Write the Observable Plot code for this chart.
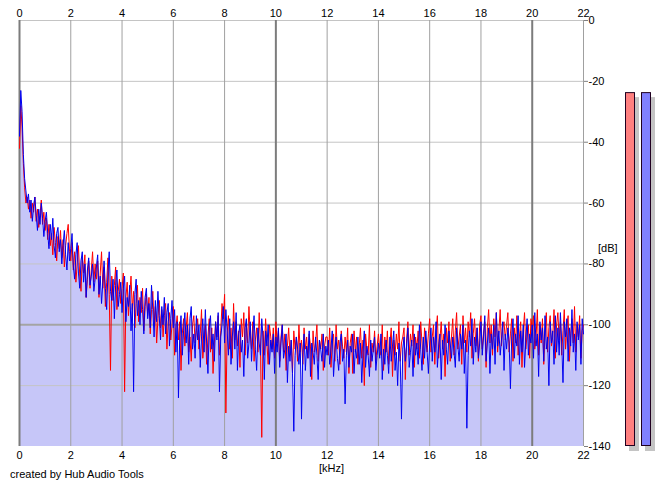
<!DOCTYPE html>
<html>
<head>
<meta charset="utf-8">
<script src="https://cdn.jsdelivr.net/npm/d3@7"></script>
<script src="https://cdn.jsdelivr.net/npm/@observablehq/plot@0.6"></script>
<style>
  body { margin: 0; background: #fff; font-family: "Liberation Sans", Arial, sans-serif; }
  #wrap { position: relative; width: 665px; height: 487px; overflow: hidden; }
  #wrap svg { position: absolute; top: 0; }
  .lbl { position: absolute; font-size: 11px; color: #000; white-space: nowrap; }
</style>
</head>
<body>
<div id="wrap">
  <div class="lbl" id="khz" style="left:319px; top:462px;">[kHz]</div>
  <div class="lbl" id="db" style="left:598px; top:242px;">[dB]</div>
  <div class="lbl" id="credit" style="left:10px; top:468px;">created by Hub Audio Tools</div>
</div>
<script>
// ---- data ----
const freqStep = 0.05; // kHz between spectrum bins
// one row = 1 kHz (20 bins)
const blueDb = [
  -38, -23, -30, -44, -52, -56, -60, -57, -63, -59, -66, -61, -58, -64, -69, -62, -67, -60, -65, -71,
  -66, -63, -70, -75, -67, -72, -65, -74, -78, -70, -68, -76, -72, -80, -74, -69, -77, -82, -73, -79,
  -75, -70, -81, -85, -77, -73, -83, -88, -79, -76, -86, -80, -91, -82, -78, -87, -84, -80, -89, -85,
  -81, -77, -90, -84, -93, -86, -79, -88, -95, -83, -76, -89, -92, -85, -98, -87, -82, -94, -90, -86,
  -96, -88, -84, -99, -91, -94, -87, -102, -93, -122, -90, -85, -97, -92, -100, -89, -95, -103, -91, -88,
  -98, -93, -101, -87, -95, -104, -92, -99, -89, -97, -105, -94, -100, -91, -103, -96, -93, -107, -98, -92,
  -101, -95, -109, -99, -124, -104, -97, -110, -102, -96, -106, -100, -113, -98, -94, -108, -103, -111, -97, -105,
  -100, -114, -104, -98, -109, -95, -106, -116, -101, -97, -108, -103, -112, -99, -105, -96, -122, -104, -100, -94,
  -106, -95, -102, -110, -98, -113, -104, -99, -108, -96, -115, -103, -100, -109, -105, -117, -101, -98, -111, -106,
  -99, -112, -103, -97, -108, -115, -101, -106, -110, -98, -104, -118, -102, -107, -100, -113, -105, -109, -103, -116,
  -104, -109, -101, -114, -106, -100, -111, -108, -103, -119, -107, -112, -105, -116, -135, -110, -104, -108, -113, -106,
  -131, -109, -103, -115, -107, -111, -102, -117, -106, -109, -113, -104, -110, -118, -105, -108, -112, -103, -114, -107,
  -110, -105, -113, -108, -102, -117, -109, -104, -111, -115, -106, -103, -112, -108, -126, -110, -105, -114, -107, -109,
  -103, -116, -108, -111, -104, -113, -106, -119, -109, -102, -114, -107, -110, -117, -105, -112, -108, -104, -115, -110,
  -106, -111, -103, -118, -108, -113, -105, -110, -116, -104, -112, -107, -102, -115, -109, -120, -106, -111, -131, -108,
  -104, -112, -107, -101, -114, -109, -105, -117, -103, -110, -106, -113, -100, -108, -115, -104, -111, -102, -109, -116,
  -106, -101, -112, -104, -109, -99, -114, -107, -103, -118, -105, -110, -100, -108, -113, -102, -106, -111, -104, -109,
  -114, -101, -107, -112, -103, -108, -100, -116, -105, -134, -110, -102, -107, -98, -113, -104, -109, -101, -111, -106,
  -99, -110, -104, -97, -112, -106, -101, -116, -103, -108, -100, -113, -96, -107, -102, -110, -105, -99, -115, -103,
  -108, -101, -106, -121, -104, -98, -111, -103, -107, -97, -113, -102, -109, -100, -114, -105, -98, -110, -103, -106,
  -100, -111, -96, -107, -103, -117, -99, -105, -101, -112, -97, -108, -104, -120, -99, -106, -102, -113, -97, -109,
  -101, -110, -96, -106, -119, -99, -104, -98, -112, -101, -107, -95, -109, -103, -115, -99, -105, -100, -113, -98,
  -103
];
const redDb = [
  -42, -28, -35, -47, -55, -60, -58, -62, -59, -65, -60, -63, -58, -66, -62, -68, -64, -59, -67, -63,
  -69, -65, -72, -67, -74, -70, -77, -68, -73, -79, -71, -75, -69, -78, -72, -81, -74, -70, -67, -76,
  -79, -73, -82, -76, -86, -80, -74, -84, -89, -78, -83, -77, -91, -85, -79, -88, -82, -76, -86, -80,
  -85, -79, -91, -83, -76, -88, -81, -94, -86, -78, -90, -115, -84, -92, -87, -81, -95, -89, -85, -93,
  -88, -83, -122, -91, -86, -97, -90, -84, -95, -89, -101, -93, -87, -99, -91, -96, -88, -102, -94, -90,
  -97, -91, -103, -95, -89, -100, -94, -106, -98, -92, -101, -95, -104, -97, -93, -108, -99, -96, -105, -100,
  -94, -110, -101, -97, -105, -99, -115, -103, -98, -107, -101, -96, -109, -104, -112, -100, -97, -106, -102, -98,
  -108, -103, -95, -111, -106, -100, -113, -104, -98, -109, -101, -116, -106, -99, -104, -97, -110, -102, -93, -98,
  -90, -129, -103, -97, -108, -101, -111, -93, -105, -99, -107, -102, -114, -98, -104, -96, -110, -100, -106, -94,
  -103, -108, -99, -112, -105, -101, -109, -96, -107, -137, -102, -110, -98, -106, -113, -100, -104, -108, -101, -111,
  -99, -106, -102, -112, -104, -100, -109, -103, -115, -107, -101, -110, -105, -116, -102, -108, -104, -112, -100, -109,
  -105, -113, -101, -108, -104, -111, -103, -107, -118, -102, -109, -106, -100, -112, -105, -108, -103, -115, -107, -104,
  -104, -110, -101, -114, -106, -103, -112, -100, -108, -105, -113, -102, -107, -111, -104, -109, -101, -116, -106, -103,
  -116, -102, -109, -104, -113, -107, -101, -111, -105, -120, -103, -108, -110, -100, -114, -106, -109, -102, -112, -107,
  -103, -108, -110, -100, -115, -104, -109, -102, -113, -106, -101, -117, -105, -110, -103, -108, -99, -112, -106, -104,
  -101, -118, -105, -99, -110, -103, -107, -100, -114, -104, -108, -102, -111, -99, -106, -113, -101, -105, -109, -103,
  -98, -109, -104, -100, -113, -102, -97, -111, -105, -99, -108, -103, -117, -101, -106, -99, -112, -104, -98, -110,
  -102, -96, -108, -104, -100, -113, -97, -106, -101, -109, -99, -104, -96, -111, -103, -98, -107, -101, -112, -100,
  -97, -108, -103, -99, -114, -101, -95, -106, -100, -110, -98, -104, -96, -109, -102, -95, -107, -101, -99, -105,
  -100, -96, -109, -103, -98, -112, -101, -106, -97, -110, -104, -99, -114, -102, -96, -108, -103, -100, -111, -98,
  -102, -97, -108, -104, -95, -110, -100, -106, -98, -113, -103, -96, -109, -101, -97, -107, -104, -95, -111, -100,
  -96, -105, -99, -110, -102, -95, -108, -101, -97, -112, -103, -98, -106, -94, -109, -100, -104, -97, -111, -102,
  -100
];
const xTicks = [0, 2, 4, 6, 8, 10, 12, 14, 16, 18, 20, 22];
const xMajor = [0, 10, 20];
const yTicks = [0, -20, -40, -60, -80, -100, -120, -140];
const yGrid = [0, -20, -40, -60, -80, -120];
const yMajor = [-100];
const channels = ["L", "R"];
const levels = [-23.7, -23.7];
const channelColors = ["#ff8080", "#8080ff"];

// ---- build tables ----
const blueData = blueDb.map((v, i) => ({ f: +(i * freqStep).toFixed(3), db: v }));
const redData = redDb.map((v, i) => ({ f: +(i * freqStep).toFixed(3), db: v }));
const meters = channels.map((c, i) => ({ ch: c, level: levels[i], color: channelColors[i] }));

const W = 665, H = 487;
const mTop = 20, mBottom = H - 446;

const main = Plot.plot({
  width: W, height: H,
  marginLeft: 19, marginRight: W - 583, marginTop: mTop, marginBottom: mBottom,
  style: { fontFamily: "Liberation Sans, Arial, sans-serif", fontSize: "11px", background: "transparent", overflow: "visible" },
  x: { domain: [0, 22], label: null },
  y: { domain: [-140, 0], label: null },
  marks: [
    Plot.areaY(blueData, { x: "f", y1: -140, y2: "db", fill: "#c6c6f8" }),
    Plot.ruleY(yGrid, { stroke: "#c4c4c4", strokeWidth: 1 }),
    Plot.ruleY(yMajor, { stroke: "#a4a4a4", strokeWidth: 2 }),
    Plot.ruleX(xTicks.filter(d => !xMajor.includes(d)), { stroke: "#a0a0a0", strokeWidth: 1 }),
    Plot.ruleX(xMajor, { stroke: "#7c7c7c", strokeWidth: 2 }),
    Plot.lineY(redData, { x: "f", y: "db", stroke: "#ff0000", strokeWidth: 1 }),
    Plot.lineY(blueData, { x: "f", y: "db", stroke: "#0000f0", strokeWidth: 1 }),
    Plot.axisX({ anchor: "top", ticks: xTicks, tickSize: 0, tickPadding: 4, tickFormat: d => String(d) }),
    Plot.axisX({ anchor: "bottom", ticks: xTicks, tickSize: 0, tickPadding: 5, tickFormat: d => String(d) }),
    Plot.axisY({ anchor: "right", ticks: yTicks, tickSize: 4, tickPadding: 1, stroke: "#808080", tickFormat: d => String(d) })
  ]
});
main.style.left = "0px";
document.getElementById("wrap").appendChild(main);

const meter = Plot.plot({
  width: 45, height: H,
  marginLeft: 0, marginRight: 0, marginTop: mTop, marginBottom: mBottom,
  style: { background: "transparent", overflow: "visible" },
  x: { type: "band", domain: channels, range: [5, 31], paddingInner: 0.375, paddingOuter: 0, axis: null },
  y: { domain: [-140, 0], axis: null },
  marks: [
    Plot.barY(meters, { x: "ch", y1: -140, y2: "level", fill: "#c4c4c4", dx: 4, dy: 5, inset: 0 }),
    Plot.barY(meters, { x: "ch", y1: -140, y2: "level", fill: "color", stroke: "#200020", strokeWidth: 1, inset: 0.5 })
  ]
});
meter.style.left = "620px";
document.getElementById("wrap").appendChild(meter);
</script>
</body>
</html>
